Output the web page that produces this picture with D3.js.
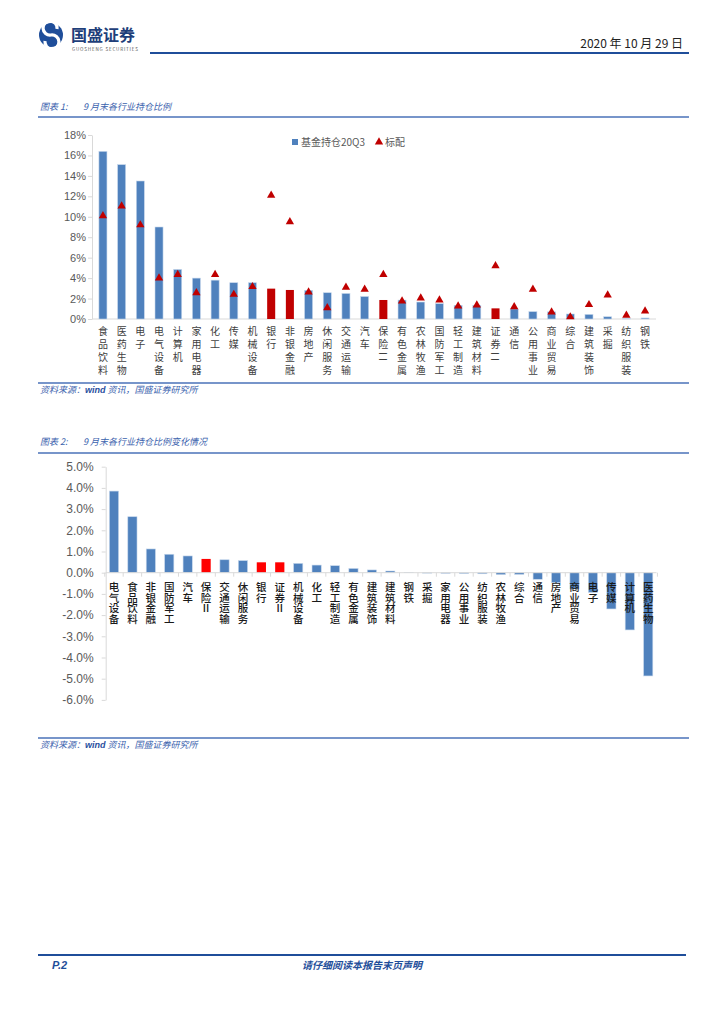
<!DOCTYPE html>
<html><head><meta charset="utf-8">
<script src="https://cdn.jsdelivr.net/npm/d3@7"></script>
<style>
body{margin:0;background:#fff;}
svg{display:block;font-family:"Noto Sans CJK SC","Noto Sans",sans-serif;}
.vt{writing-mode:vertical-rl;}
</style></head><body>
<svg id="page" width="724" height="1024"></svg>
<script>
// ---------- DATA ----------
const cats1 = ["食品饮料","医药生物","电子","电气设备","计算机","家用电器","化工","传媒","机械设备","银行","非银金融","房地产","休闲服务","交通运输","汽车","保险II","有色金属","农林牧渔","国防军工","轻工制造","建筑材料","证券II","通信","公用事业","商业贸易","综合","建筑装饰","采掘","纺织服装","钢铁"];
const holdings1 = [16.4,15.1,13.5,9.0,4.85,4.0,3.8,3.55,3.55,2.97,2.84,2.8,2.57,2.5,2.2,1.86,1.85,1.66,1.5,1.34,1.34,1.04,0.98,0.72,0.7,0.49,0.45,0.22,0.05,0.1];
const standard1 = [10.1,11.05,9.2,4.0,4.35,2.57,4.35,2.4,3.16,12.1,9.5,2.64,1.1,3.1,2.9,4.35,1.76,2.05,1.86,1.27,1.37,5.2,1.2,2.9,0.68,0.2,1.4,2.35,0.36,0.78];
const red1 = ["银行","非银金融","保险II","证券II"];
const ticks1 = [0,2,4,6,8,10,12,14,16,18];

const cats2 = ["电气设备","食品饮料","非银金融","国防军工","汽车","保险Ⅱ","交通运输","休闲服务","银行","证券Ⅱ","机械设备","化工","轻工制造","有色金属","建筑装饰","建筑材料","钢铁","采掘","家用电器","公用事业","纺织服装","农林牧渔","综合","通信","房地产","商业贸易","电子","传媒","计算机","医药生物"];
const change2 = [3.85,2.64,1.12,0.87,0.79,0.65,0.61,0.57,0.49,0.49,0.44,0.36,0.33,0.2,0.13,0.08,0.01,-0.02,-0.03,-0.04,-0.05,-0.09,-0.08,-0.31,-0.47,-0.77,-0.93,-1.71,-2.7,-4.87];
const red2 = ["保险Ⅱ","银行","证券Ⅱ"];
const ticks2 = [5,4,3,2,1,0,-1,-2,-3,-4,-5,-6];

// ---------- PAGE ----------
const svg = d3.select("#page");
const navy = "#1f4e9a", capBlue = "#3a62ad";

// header logo
const logo = svg.append("g").attr("transform","translate(51,35)");
logo.append("circle").attr("r",12).attr("fill",navy);
logo.append("path").attr("d","M6,-6 A7,7 0 1 0 0,0 A7,7 0 1 1 -6,6").attr("fill","none").attr("stroke","#fff").attr("stroke-width",3.2);
svg.append("text").attr("x",71).attr("y",41).attr("font-size",16).attr("font-weight",700).attr("fill","#1f3f7a").text("国盛证券");
svg.append("text").attr("x",72).attr("y",51).attr("font-size",4.6).attr("fill","#555").attr("letter-spacing",0.8).text("GUOSHENG SECURITIES");
svg.append("text").attr("x",683).attr("y",48).attr("text-anchor","end").attr("font-size",12).attr("fill","#222").text("2020 年 10 月 29 日");
svg.append("line").attr("x1",150).attr("x2",689).attr("y1",53).attr("y2",53).attr("stroke",navy).attr("stroke-width",2);

function caption(y, label, title, lineY){
  svg.append("text").attr("x",40).attr("y",y).attr("font-size",9).attr("font-style","italic").attr("fill",capBlue)
    .text(label).append("tspan").attr("x",83).text(title);
  svg.append("line").attr("x1",38).attr("x2",689).attr("y1",lineY).attr("y2",lineY).attr("stroke","#4a72b8").attr("stroke-width",1.5);
}
function source(lineY){
  svg.append("line").attr("x1",38).attr("x2",689).attr("y1",lineY).attr("y2",lineY).attr("stroke","#4a72b8").attr("stroke-width",1.5);
  const t = svg.append("text").attr("x",40).attr("y",lineY+10).attr("font-size",9).attr("font-style","italic").attr("fill",capBlue);
  t.append("tspan").text("资料来源：");
  t.append("tspan").attr("font-family","Liberation Sans, sans-serif").attr("font-weight",700).attr("fill","#2a4f9e").text("wind");
  t.append("tspan").text(" 资讯，国盛证券研究所");
}

// ---------- CHART 1 ----------
caption(110, "图表 1:", "9 月末各行业持仓比例", 117);
const x1 = d3.scaleBand().domain(cats1).range([92,656]).paddingInner(0.57).paddingOuter(0.37);
const y1 = d3.scaleLinear().domain([0,18]).range([319,135]);
const g1 = svg.append("g");
const ax1 = g1.append("g").attr("transform","translate(92,0)")
  .call(d3.axisLeft(y1).tickValues(ticks1).tickFormat(d=>d+"%").tickSizeInner(4).tickSizeOuter(0).tickPadding(2));
ax1.select(".domain").attr("stroke","#d9d9d9");
ax1.selectAll(".tick line").attr("stroke","#d9d9d9");
ax1.selectAll(".tick text").attr("font-size",11).attr("fill","#595959").attr("font-family","Liberation Sans, Arial, sans-serif");
g1.append("line").attr("x1",92).attr("x2",656).attr("y1",y1(0)).attr("y2",y1(0)).attr("stroke","#d9d9d9");
g1.selectAll("rect.b").data(cats1).join("rect").attr("class","b")
  .attr("x",d=>x1(d)).attr("width",x1.bandwidth())
  .attr("y",(d,i)=>y1(holdings1[i])).attr("height",(d,i)=>y1(0)-y1(holdings1[i]))
  .attr("fill",d=>red1.includes(d)?"#c00000":"#4f81bd")
  .attr("stroke",d=>red1.includes(d)?"none":"#c6d7ec").attr("stroke-width",0.6);
const tri = d3.symbol().type(d3.symbolTriangle).size(30);
g1.selectAll("path.t").data(cats1).join("path").attr("class","t").attr("d",tri)
  .attr("transform",(d,i)=>`translate(${x1(d)+x1.bandwidth()/2},${y1(standard1[i])})`)
  .attr("fill","#c00000");
g1.selectAll("text.lab").data(cats1).join("text").attr("class","lab vt")
  .attr("x",d=>x1(d)+x1.bandwidth()/2).attr("y",326)
  .attr("font-size",10).attr("letter-spacing",3).attr("fill","#404040").text(d=>d);
// legend
g1.append("rect").attr("x",292).attr("y",139).attr("width",6).attr("height",6).attr("fill","#4f81bd");
g1.append("text").attr("x",301).attr("y",146).attr("font-size",10).attr("fill","#595959").text("基金持仓20Q3");
g1.append("path").attr("d",tri).attr("transform","translate(379,142)").attr("fill","#c00000");
g1.append("text").attr("x",385).attr("y",146).attr("font-size",10).attr("fill","#595959").text("标配");
source(383);

// ---------- CHART 2 ----------
caption(445, "图表 2:", "9 月末各行业持仓比例变化情况", 453);
const x2 = d3.scaleBand().domain(cats2).range([105.7,656.5]).paddingInner(0.5).paddingOuter(0.2);
const y2 = d3.scaleLinear().domain([-6,5]).range([699.9,466.7]);
const g2 = svg.append("g");
const ax2 = g2.append("g").attr("transform","translate(105.7,0)")
  .call(d3.axisLeft(y2).tickValues(ticks2).tickFormat(d=>d.toFixed(1)+"%").tickSizeInner(4).tickSizeOuter(0).tickPadding(8));
ax2.select(".domain").attr("stroke","#d9d9d9");
ax2.selectAll(".tick line").attr("stroke","#d9d9d9");
ax2.selectAll(".tick text").attr("font-size",12).attr("fill","#595959").attr("font-family","Liberation Sans, Arial, sans-serif");
g2.selectAll("rect.b").data(cats2).join("rect").attr("class","b")
  .attr("x",d=>x2(d)).attr("width",x2.bandwidth())
  .attr("y",(d,i)=>Math.min(y2(0),y2(change2[i]))).attr("height",(d,i)=>Math.abs(y2(change2[i])-y2(0)))
  .attr("fill",d=>red2.includes(d)?"#ff0000":"#4f81bd")
  .attr("stroke",d=>red2.includes(d)?"none":"#c6d7ec").attr("stroke-width",0.6);
const xa2 = g2.append("g").attr("transform",`translate(0,${y2(0)})`);
xa2.append("line").attr("x1",105.7).attr("x2",656.5).attr("stroke","#d9d9d9");
xa2.selectAll("line.tk").data(d3.range(cats2.length+1)).join("line").attr("class","tk")
  .attr("x1",i=>i<cats2.length? x2(cats2[i]) - x2.step()*x2.paddingInner()/2 : x2(cats2[i-1])+x2.bandwidth()+x2.step()*x2.paddingInner()/2)
  .attr("x2",function(){return d3.select(this).attr("x1");})
  .attr("y1",0).attr("y2",4).attr("stroke","#d9d9d9");
g2.selectAll("text.lab").data(cats2).join("text").attr("class","lab vt")
  .attr("x",d=>x2(d)+x2.bandwidth()/2).attr("y",582)
  .attr("font-size",10.5).attr("font-weight",500).attr("fill","#1a1a1a").text(d=>d);
source(738);

// ---------- FOOTER ----------
svg.append("line").attr("x1",38).attr("x2",686).attr("y1",955).attr("y2",955).attr("stroke",navy).attr("stroke-width",2);
svg.append("text").attr("x",52).attr("y",969).attr("font-size",11).attr("font-weight",700).attr("font-style","italic")
  .attr("font-family","Liberation Sans, Arial, sans-serif").attr("fill",navy).text("P.2");
svg.append("text").attr("x",362).attr("y",969).attr("text-anchor","middle").attr("font-size",10).attr("font-weight",700).attr("font-style","italic").attr("fill",navy).text("请仔细阅读本报告末页声明");
</script>
</body></html>
